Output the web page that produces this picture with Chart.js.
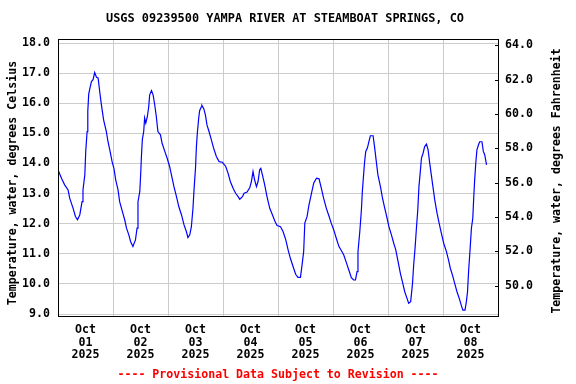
<!DOCTYPE html>
<html><head><meta charset="utf-8">
<script src="https://cdn.jsdelivr.net/npm/chart.js@4"></script>
<style>html,body{margin:0;padding:0;background:#fff}canvas{display:block}</style>
</head><body>
<canvas id="c" width="576" height="384"></canvas>
<script>
const chartTitle = 'USGS 09239500 YAMPA RIVER AT STEAMBOAT SPRINGS, CO';
const footerText = '---- Provisional Data Subject to Revision ----';
const leftTitle = 'Temperature, water, degrees Celsius';
const rightTitle = 'Temperature, water, degrees Fahrenheit';
const monthLabel = 'Oct';
const yearLabel = '2025';
const dayLabels = ['01','02','03','04','05','06','07','08'];
const celsiusRange = [8.934, 18.133];
const fahrenheitRange = [48.23, 64.36];

// hours since 2025-10-01 00:00
const hours = [0,1.5,2.9,4.4,5.1,6.6,7.6,8.5,9.5,10.5,10.9,11.7,12.1,12.7,13.0,13.4,14.1,14.6,15.3,16.0,16.8,17.5,18.2,18.9,19.9,21.1,21.8,22.6,23.6,24.4,25.2,26.2,26.9,28.1,29.1,29.9,30.9,31.7,32.7,33.8,34.5,34.9,35.7,36.1,36.4,36.8,37.4,37.8,38.3,39.0,39.6,40.0,40.8,41.5,42.2,42.9,43.6,44.7,45.4,46.6,47.6,48.7,49.8,50.6,51.7,52.7,53.9,55.0,56.0,56.7,57.5,58.2,58.9,59.4,60.0,60.4,60.8,61.4,61.8,62.6,62.8,63.6,64.3,65.0,65.9,66.9,67.9,69.1,70.3,71.7,73.2,74.2,75.2,76.4,77.5,78.6,79.3,80.5,81.2,82.5,83.7,84.4,85.1,85.8,86.6,87.3,88.0,88.5,89.2,90.2,91.2,92.4,93.6,94.6,95.6,97.1,98.2,99.4,100.4,101.4,102.6,103.7,104.7,105.8,106.5,107.2,107.7,108.7,109.5,110.6,111.6,112.8,113.9,114.9,115.9,117.1,118.3,119.3,120.3,121.5,122.6,123.7,124.7,125.9,126.9,128.0,129.0,129.8,130.5,130.9,131.7,132.4,132.8,133.4,133.8,134.3,135.0,135.7,136.3,137.5,138.2,138.9,139.6,140.7,141.6,142.6,143.6,144.4,145.5,146.5,147.4,148.4,149.4,150.3,151.3,152.3,153.0,153.9,154.7,155.2,155.8,156.4,157.0,157.5,158.1,158.6,159.3,160.0,160.8,161.5,162.2,162.9,163.6,164.4,165.4,166.3,167.3,168.3,169.5,170.4,171.2,172.1,173.1,174.1,175.3,176.0,176.7,177.6,178.2,178.7,179.2,179.8,180.4,181.0,181.4,181.8,182.3,182.8,183.5,184.0,185.0,185.6,186.2,187.0];
const tempC = [13.79,13.51,13.29,13.12,12.85,12.51,12.24,12.13,12.29,12.73,13.12,13.62,14.40,15.06,15.73,16.30,16.56,16.72,16.78,17.02,16.86,16.84,16.39,15.97,15.45,15.06,14.73,14.45,14.06,13.84,13.45,13.12,12.73,12.40,12.13,11.85,11.63,11.40,11.24,11.46,11.85,12.73,13.07,13.68,14.23,14.79,15.06,15.51,15.34,15.56,15.89,16.28,16.42,16.28,15.95,15.56,15.06,14.95,14.68,14.40,14.18,13.90,13.51,13.23,12.90,12.57,12.29,11.96,11.74,11.54,11.63,11.90,12.51,13.18,13.84,14.56,15.01,15.51,15.75,15.89,15.93,15.82,15.62,15.28,15.06,14.79,14.51,14.23,14.06,14.04,13.90,13.68,13.40,13.18,13.01,12.90,12.81,12.90,13.01,13.05,13.20,13.40,13.73,13.45,13.23,13.40,13.79,13.84,13.62,13.29,12.90,12.51,12.29,12.09,11.94,11.90,11.74,11.46,11.13,10.85,10.57,10.32,10.22,10.22,10.63,11.07,12.02,12.24,12.62,13.01,13.35,13.51,13.49,13.18,12.85,12.51,12.24,12.00,11.80,11.50,11.24,11.10,10.96,10.69,10.46,10.21,10.13,10.13,10.41,11.07,11.74,12.46,13.07,13.68,14.06,14.40,14.51,14.73,14.92,14.92,14.51,14.06,13.62,13.23,12.85,12.51,12.18,11.90,11.63,11.35,11.13,10.74,10.35,10.07,9.74,9.52,9.36,9.41,10.02,10.63,11.18,11.85,12.46,13.23,13.73,14.18,14.34,14.56,14.64,14.45,14.01,13.62,13.23,12.79,12.35,12.02,11.68,11.35,11.07,10.80,10.52,10.30,10.02,9.74,9.47,9.28,9.13,9.13,9.41,9.74,10.46,11.13,11.85,12.18,12.85,13.43,14.01,14.45,14.62,14.72,14.72,14.40,14.29,13.95];

const FAMILY = '"DejaVu Sans Mono", "Liberation Mono", monospace';
const tickFont = {family: FAMILY, size: 11.6, weight: 'bold', lineHeight: 1.12};
const CSS_FONT = 'bold 11.6px ' + FAMILY;
const TITLE_FONT = 'bold 11.9px ' + FAMILY;

const xTicks = [];
for (let i = 0; i <= dayLabels.length; i++) {
  xTicks.push(i * 24);
  if (i < dayLabels.length) xTicks.push(i * 24 + 12);
}

const decorPlugin = {
  id: 'decor',
  afterDraw(chart) {
    const ctx = chart.ctx;
    const a = chart.chartArea;
    ctx.save();
    // right axis inward ticks
    const y2 = chart.scales.y2;
    ctx.strokeStyle = '#000';
    ctx.lineWidth = 1;
    y2.ticks.forEach(t => {
      const py = Math.round(y2.getPixelForValue(t.value)) + 0.5;
      ctx.beginPath();
      ctx.moveTo(a.right - 3, py);
      ctx.lineTo(a.right, py);
      ctx.stroke();
    });
    // frame
    ctx.strokeRect(Math.round(a.left) + 0.5, Math.round(a.top) + 0.5,
                   Math.round(a.right - a.left), Math.round(a.bottom - a.top));
    // texts
    ctx.textAlign = 'center';
    ctx.textBaseline = 'middle';
    ctx.fillStyle = '#000';
    ctx.font = TITLE_FONT;
    ctx.fillText(chartTitle, 285, 19);
    ctx.font = CSS_FONT;
    ctx.fillStyle = '#ff0000';
    ctx.fillText(footerText, 278, 375);
    ctx.fillStyle = '#000';
    ctx.save();
    ctx.translate(13, 183);
    ctx.rotate(-Math.PI / 2);
    ctx.fillText(leftTitle, 0, 0);
    ctx.restore();
    ctx.save();
    ctx.translate(557, 181);
    ctx.rotate(-Math.PI / 2);
    ctx.fillText(rightTitle, 0, 0);
    ctx.restore();
    ctx.restore();
  }
};

new Chart(document.getElementById('c'), {
  type: 'line',
  data: {
    datasets: [{
      data: hours.map((h, i) => ({x: h, y: tempC[i]})),
      borderColor: '#0000ff',
      borderWidth: 1.2,
      pointRadius: 0,
      tension: 0,
      fill: false,
      yAxisID: 'y'
    }]
  },
  options: {
    responsive: false,
    animation: false,
    devicePixelRatio: 1,
    layout: {padding: {top: 39, left: 0, right: 0, bottom: 0}},
    plugins: {legend: {display: false}, title: {display: false}, tooltip: {enabled: false}},
    scales: {
      x: {
        type: 'linear',
        min: 0,
        max: dayLabels.length * 24,
        afterBuildTicks: s => { s.ticks = xTicks.map(v => ({value: v})); },
        ticks: {
          autoSkip: false, maxRotation: 0, minRotation: 0, padding: 7,
          color: '#000', font: tickFont,
          callback: v => (v % 24 === 12) ? [monthLabel, dayLabels[(v - 12) / 24], yearLabel] : ''
        },
        grid: {
          color: c => (c.tick && c.tick.value % 24 === 0) ? '#cccccc' : 'rgba(0,0,0,0)',
          drawTicks: false, lineWidth: 1
        },
        border: {display: false},
        afterFit: s => { s.height = 68; }
      },
      y: {
        position: 'left',
        min: celsiusRange[0], max: celsiusRange[1],
        ticks: {stepSize: 1, includeBounds: false, padding: 8, color: '#000', font: tickFont,
                callback: v => v.toFixed(1)},
        grid: {color: '#cccccc', drawTicks: false, lineWidth: 1},
        border: {display: false},
        afterFit: s => { s.width = 58; }
      },
      y2: {
        position: 'right',
        min: fahrenheitRange[0], max: fahrenheitRange[1],
        ticks: {stepSize: 2, includeBounds: false, padding: 7, color: '#000', font: tickFont,
                callback: v => v.toFixed(1)},
        grid: {drawOnChartArea: false, drawTicks: false},
        border: {display: false},
        afterFit: s => { s.width = 78; }
      }
    }
  },
  plugins: [decorPlugin]
});
</script>
</body></html>
